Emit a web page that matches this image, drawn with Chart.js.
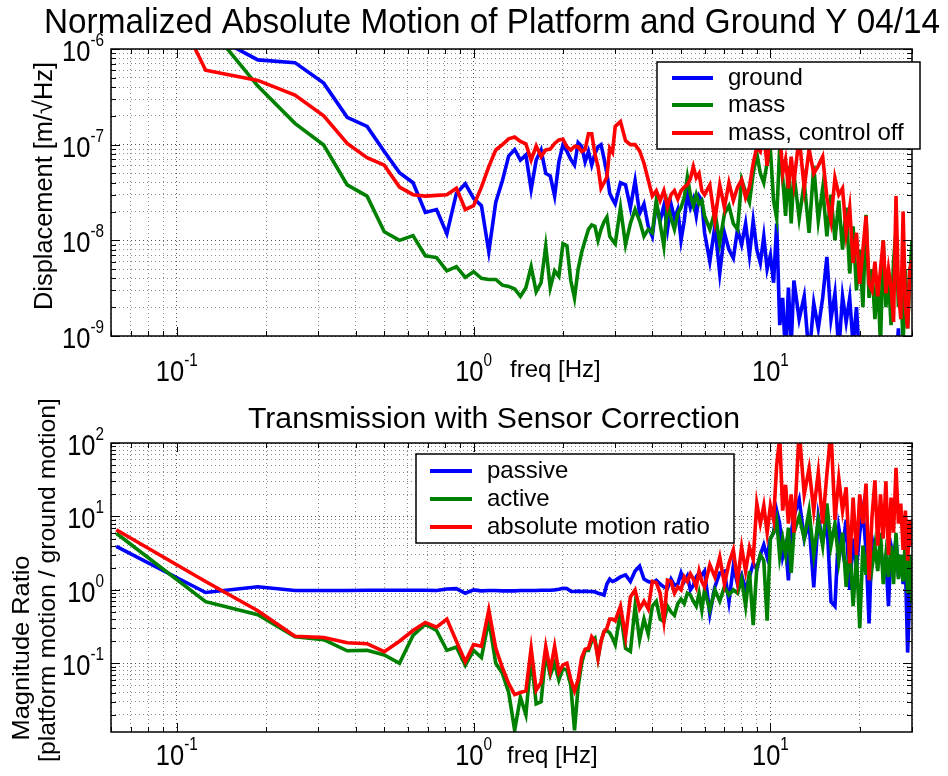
<!DOCTYPE html>
<html>
<head>
<meta charset="utf-8">
<script src="https://cdn.jsdelivr.net/npm/chart.js@4.4.1/dist/chart.umd.min.js"></script>
<style>
	body { margin: 0; background: #fff; }
	#topChart { position: absolute; left: 0; top: 0; }
	#botChart { position: absolute; left: 0; top: 390px; }
</style>
</head>
<body>
<canvas id="topChart" width="948" height="390"></canvas>
<canvas id="botChart" width="948" height="386"></canvas>
<script>
const FONT = '"Liberation Sans", Arial, Helvetica, sans-serif';

// frequency bins [Hz]
const freq = [
	0.0625, 0.125, 0.1875, 0.25, 0.3125, 0.375, 0.4375, 0.5, 0.5625, 0.625,
	0.6875, 0.75, 0.8125, 0.875, 0.9375, 1.0, 1.0625, 1.125, 1.1875, 1.25,
	1.3125, 1.375, 1.4375, 1.5, 1.5625, 1.625, 1.6875, 1.75, 1.8125, 1.875,
	1.9375, 2.0, 2.0625, 2.125, 2.1875, 2.25, 2.3125, 2.375, 2.4375, 2.5,
	2.5625, 2.625, 2.6875, 2.75, 2.8125, 2.875, 2.9375, 3.0,
	3.125, 3.25, 3.375, 3.5, 3.625, 3.75, 3.875, 4.0, 4.125, 4.25, 4.375, 4.5,
	4.625, 4.75, 4.875, 5.0, 5.125, 5.25, 5.375, 5.5, 5.625, 5.75, 5.875, 6.0,
	6.25, 6.5, 6.75, 7.0, 7.25, 7.5, 7.75, 8.0, 8.25, 8.5, 8.75, 9.0,
	9.25, 9.5, 9.75, 10.0, 10.25, 10.5, 10.75, 11.0, 11.25, 11.5, 11.75, 12.0,
	12.5, 13, 13.5, 14, 14.5, 15, 15.5, 16, 16.5, 17, 17.5, 18,
	18.5, 19, 19.5, 20, 20.5, 21, 21.5, 22, 22.5, 23, 23.5, 24,
	24.5, 25, 25.5, 26, 26.5, 27, 27.5, 28, 28.5, 29, 29.5, 30,
];

// top plot: displacement [m/rtHz]
const groundDisp = [
	3e-6, 1.5e-6, 7.7e-7, 7.2e-7, 4.4e-7, 1.93e-7, 1.55e-7, 8.5e-8, 5.1e-8, 4.0e-8,
	1.96e-8, 2.1e-8, 1.17e-8, 3.1e-8, 3.9e-8, 2.75e-8, 2.3e-8, 7.6e-9, 2.5e-8, 4.2e-8,
	7.6e-8, 8.9e-8, 6.9e-8, 7.8e-8, 3.4e-8, 6.9e-8, 8.8e-8, 5.0e-8, 4.7e-8, 2.9e-8,
	6.6e-8, 1.0e-7, 8.5e-8, 7.0e-8, 6.1e-8, 1.05e-7, 9.6e-8, 6.6e-8, 8.5e-8, 6.1e-8,
	8.0e-8, 9.5e-8, 1.0e-7, 7.2e-8, 5.0e-8, 3.1e-8, 2.7e-8, 2.4e-8,
	4.0e-8, 3.8e-8, 2.2e-8, 4.2e-8, 1.9e-8, 2.4e-8, 1.4e-8, 1.1e-8, 2.4e-8, 1.6e-8, 2.3e-8, 1.3e-8,
	2.4e-8, 1.7e-8, 2.1e-8, 1.0e-8, 1.6e-8, 3.1e-8, 2.2e-8, 2.7e-8, 1.8e-8, 2.9e-8, 2.6e-8, 1.2e-8,
	6e-9, 1.4e-8, 4.5e-9, 1.2e-8, 8e-9, 6.5e-9, 1.3e-8, 9e-9, 1.5e-8, 7e-9, 1.6e-8, 8e-9,
	5.8e-9, 1.1e-8, 5e-9, 7e-9, 3.6e-9, 1.5e-8, 1.3e-9, 2.5e-9, 6e-10, 3.2e-9, 8e-10, 3.8e-9,
	1.5e-9, 2.6e-9, 6e-10, 2.2e-9, 1.2e-9, 2.5e-9, 6.7e-9, 1.5e-9, 2.8e-9, 7e-10, 2.6e-9, 1.4e-9,
	2.5e-9, 8e-10, 2.0e-9, 5e-10, 6e-10, 4e-10, 5e-10, 4e-10, 5e-10, 4e-10, 5e-10, 4e-10,
	5e-10, 4e-10, 5e-10, 4e-10, 5e-10, 1.2e-9, 4e-10, 1.1e-9, 4e-10, 5e-10, 4e-10, 5e-10,
];
const massDisp = [
	4e-6, 1.9e-6, 4.1e-7, 1.67e-7, 9.9e-8, 3.8e-8, 2.9e-8, 1.23e-8, 1.0e-8, 1.12e-8,
	6.9e-9, 6.6e-9, 4.8e-9, 5.3e-9, 4.1e-9, 4.7e-9, 4.0e-9, 3.9e-9, 3.9e-9, 3.4e-9,
	3.3e-9, 3.1e-9, 2.6e-9, 3.2e-9, 5.3e-9, 2.9e-9, 3.6e-9, 8.7e-9, 3.2e-9, 4.8e-9,
	4.2e-9, 9.2e-9, 8.8e-9, 3.8e-9, 2.5e-9, 5.0e-9, 7.5e-9, 1.0e-8, 1.3e-8, 1.45e-8,
	1.4e-8, 1.0e-8, 1.3e-8, 1.55e-8, 1.75e-8, 1.1e-8, 1.0e-8, 9.2e-9,
	2.2e-8, 9e-9, 1.5e-8, 2.1e-8, 1.6e-8, 1.1e-8, 1.3e-8, 1.2e-8, 2.6e-8, 1.5e-8, 8.7e-9, 2.4e-8,
	1.7e-8, 1.3e-8, 1.9e-8, 2.2e-8, 2.8e-8, 4.6e-8, 3.0e-8, 2.3e-8, 3.0e-8, 2.4e-8, 2.6e-8, 1.8e-8,
	1.3e-8, 2.0e-8, 9.4e-9, 1.9e-8, 2.3e-8, 1.5e-8, 1.3e-8, 4.3e-8, 3.2e-8, 2.5e-8, 5.0e-8, 8.1e-8,
	5.0e-8, 4.0e-8, 6.5e-8, 8.8e-8, 2.6e-8, 1.7e-8, 9.5e-8, 4.5e-8, 1.8e-8, 6e-8, 1.5e-8, 5e-8,
	1.7e-8, 4e-8, 1.2e-8, 6e-8, 1.6e-8, 3.5e-8, 1.1e-8, 3e-8, 1.0e-8, 2.6e-8, 8e-9, 2.2e-8,
	4.5e-9, 1.4e-8, 3e-9, 8e-9, 2e-9, 1.85e-8, 2.5e-9, 5e-9, 1.5e-9, 4e-9, 8e-10, 1e-8,
	2e-9, 4e-9, 1.3e-9, 6e-9, 1.3e-8, 2e-9, 3.5e-9, 8e-10, 5e-9, 1.2e-9, 4e-9, 1.0e-8,
];
const massOffDisp = [
	5e-5, 6.0e-7, 4.7e-7, 3.3e-7, 2.0e-7, 1.03e-7, 7.3e-8, 6.1e-8, 3.6e-8, 3.0e-8,
	2.9e-8, 2.95e-8, 3.0e-8, 3.5e-8, 2.1e-8, 2.3e-8, 3.6e-8, 5.9e-8, 8.8e-8, 1.0e-7,
	1.15e-7, 1.2e-7, 1.08e-7, 1.02e-7, 6.9e-8, 9.7e-8, 7.5e-8, 8.8e-8, 9.0e-8, 1.03e-7,
	1.12e-7, 1.14e-7, 9.5e-8, 8.8e-8, 9.6e-8, 9.5e-8, 8.5e-8, 8.9e-8, 1.3e-7, 1.3e-7,
	8.0e-8, 5.9e-8, 3.5e-8, 4.0e-8, 4.6e-8, 9.2e-8, 8.3e-8, 1.55e-7,
	1.74e-7, 1.1e-7, 1.0e-7, 1.0e-7, 8.6e-8, 6.4e-8, 4.3e-8, 2.9e-8, 3.3e-8, 2.6e-8, 3.3e-8, 2.25e-8,
	3.0e-8, 3.3e-8, 2.7e-8, 3.3e-8, 3.6e-8, 3.8e-8, 4.4e-8, 5.9e-8, 4.5e-8, 5.0e-8, 3.3e-8, 3.0e-8,
	3.8e-8, 1.6e-8, 3.8e-8, 2.2e-8, 4.0e-8, 2.6e-8, 3.6e-8, 4.3e-8, 2.8e-8, 3.6e-8, 6.4e-8, 9.5e-8,
	8.5e-8, 1.3e-7, 6e-8, 1.6e-7, 1.1e-7, 1.7e-7, 1.4e-7, 5e-8, 7e-8, 3.5e-8, 7.5e-8, 4e-8,
	1.2e-7, 3.5e-8, 9e-8, 5e-8, 6e-8, 7.5e-8, 2.8e-8, 1.6e-8, 4.5e-8, 3e-8, 3.5e-8, 1.2e-8,
	2.2e-8, 5.8e-9, 1.2e-8, 3.5e-9, 8e-9, 1.8e-8, 3.5e-9, 3e-9, 6e-9, 2.6e-9, 5e-9, 1e-8,
	2.8e-9, 5e-9, 3.2e-9, 1.4e-9, 2.9e-8, 3e-9, 1.5e-9, 2e-8, 2e-9, 1.2e-9, 5e-9, 6.2e-9,
];

// bottom plot: magnitude ratio
const passiveRatio = [
	3.9, 0.92, 1.1, 0.98, 0.98, 0.98, 0.99, 0.99, 0.99, 0.99,
	0.99, 0.98, 1.03, 1.04, 0.9, 1.0, 0.97, 0.98, 0.98, 0.97,
	0.97, 0.97, 0.98, 0.98, 0.98, 0.98, 0.99, 0.99, 0.99, 1.0,
	1.02, 1.05, 1.04, 0.96, 0.95, 0.96, 0.95, 0.96, 0.95, 0.95,
	0.94, 0.9, 0.88, 0.85, 1.2, 1.4, 1.3, 1.35,
	1.5, 1.6, 1.3, 1.8, 2.1, 1.4, 1.3, 1.25, 1.35, 1.2, 1.1, 1.05,
	1.4, 1.15, 1.2, 1.7, 1.3, 1.55, 1.0, 1.15, 1.5, 1.7, 1.6, 1.8,
	0.47, 1.1, 1.7, 1.8, 0.69, 2.1, 1.2, 1.6, 1.0, 1.5, 2.3, 1.9,
	3.0, 4.1, 2.8, 5, 6, 12, 8, 2.8, 4, 1.35, 6, 10,
	17, 5, 8, 1.08, 10, 4.5, 9, 0.69, 0.6, 7, 3.5, 9,
	1.0, 5, 2.0, 6, 12, 3.5, 0.35, 5, 3, 2.5, 4, 1.8,
	2.5, 0.6, 4, 2.8, 5, 1.5, 3, 1.2, 2.2, 0.14, 1.0, 2.0,
];
const activeRatio = [
	5.9, 0.69, 0.46, 0.23, 0.21, 0.148, 0.15, 0.13, 0.10, 0.24,
	0.34, 0.28, 0.15, 0.167, 0.094, 0.15, 0.12, 0.39, 0.1, 0.073,
	0.04, 0.0122, 0.0345, 0.02, 0.12, 0.028, 0.03, 0.136, 0.069, 0.1,
	0.059, 0.085, 0.08, 0.05, 0.0122, 0.048, 0.1, 0.15, 0.15, 0.2,
	0.22, 0.117, 0.2, 0.27, 0.28, 0.26, 0.22, 0.18,
	0.5, 0.16, 0.145, 0.6, 0.21, 0.4, 0.25, 0.6, 0.7, 0.4, 0.37, 0.6,
	0.5, 0.45, 0.65, 0.75, 0.65, 0.9, 0.85, 0.7, 0.6, 0.9, 0.53, 1.0,
	0.53, 1.0, 0.7, 1.1, 0.85, 1.0, 0.9, 1.4, 0.6, 1.8, 0.33, 2.0,
	3, 2.5, 0.38, 5, 6, 9, 2.8, 5, 3, 7, 1.7, 6,
	10, 5, 12, 3, 9, 4, 15, 4, 8, 2.5, 6, 1.1,
	4, 0.6, 3, 0.3, 4, 1.6, 5, 2, 4, 1.8, 6, 1.2,
	3, 1.5, 4, 1.2, 6, 1.4, 3, 1.3, 5, 0.9, 3, 0.65,
];
const absRatio = [
	6.6, 1.3, 0.52, 0.234, 0.225, 0.19, 0.185, 0.144, 0.2, 0.28,
	0.36, 0.31, 0.4, 0.2, 0.105, 0.18, 0.17, 0.53, 0.16, 0.087,
	0.053, 0.0375, 0.04, 0.042, 0.16, 0.043, 0.055, 0.17, 0.08, 0.17,
	0.075, 0.095, 0.1, 0.06, 0.042, 0.06, 0.12, 0.155, 0.16, 0.23,
	0.2, 0.117, 0.2, 0.27, 0.3, 0.4, 0.4, 0.38,
	0.6, 0.23, 0.8, 1.0, 0.55, 0.7, 0.55, 1.3, 1.25, 0.9, 0.38, 1.35,
	1.3, 0.9, 1.1, 1.0, 1.5, 1.3, 1.65, 1.4, 1.1, 1.8, 1.3, 1.1,
	2.2, 1.5, 2.8, 1.2, 2.3, 3.5, 1.3, 3.8, 1.8, 3.8, 2.6, 15,
	8, 14, 6, 14, 9, 50, 120, 12, 27, 8, 20, 6,
	150, 20, 45, 12, 40, 8, 38, 150, 9, 33, 12, 25,
	2.3, 18, 3, 20, 8, 28, 1.35, 10, 31, 4, 20, 5,
	30, 3, 18, 6, 46, 8, 15, 3.5, 12, 2.5, 9, 4,
];

function isMajor(v) {
	const l = Math.log10(v);
	return Math.abs(l - Math.round(l)) < 1e-6;
}
// matlab style log ticks: 1..9 x 10^n inside the range
function logTicks(min, max) {
	let out = [];
	for (let e = Math.floor(Math.log10(min)); e <= Math.ceil(Math.log10(max)); e++)
		for (let m = 1; m < 10; m++) {
			const v = m * Math.pow(10, e);
			if (v >= min * 0.999 && v <= max * 1.001) out.push(v);
		}
	return out;
}
function logAxis(min, max) {
	return {
		type: "logarithmic",
		min: min,
		max: max,
		afterBuildTicks: (s) => {
			s.ticks = logTicks(min, max).map((v) => ({ value: v }));
		},
		ticks: { display: false },
		grid: {
			color: (c) => (c.tick && isMajor(c.tick.value) ? "#555" : "#8c8c8c"),
			lineWidth: 1,
			drawTicks: false,
		},
		border: { display: false, dash: [1, 3] },
	};
}
function series(label, ys, color, order) {
	return {
		label: label,
		data: freq.map((f, i) => ({ x: f, y: ys[i] })),
		borderColor: color,
		backgroundColor: color,
		borderWidth: 3.6,
		pointRadius: 0,
		tension: 0,
		fill: false,
		order: order,
		clip: 0,
	};
}

function text(ctx, s, x, y, font, opt) {
	opt = opt || {};
	ctx.save();
	ctx.translate(x, y);
	if (opt.rot) ctx.rotate(opt.rot);
	ctx.scale(opt.sx || 1, 1);
	ctx.font = font;
	ctx.textAlign = opt.align || "left";
	ctx.textBaseline = opt.base || "alphabetic";
	ctx.fillStyle = "#000";
	ctx.fillText(s, 0, 0);
	ctx.restore();
}
// text squeezed/stretched to a given length
function fitText(ctx, s, x, y, size, len, opt) {
	ctx.font = size + "px " + FONT;
	const w = ctx.measureText(s).width;
	text(ctx, s, x, y, size + "px " + FONT, Object.assign({ align: "center", sx: len / w }, opt));
}
function drawPow(ctx, e, x, y, axis, sx) {
	const base = "30px " + FONT,
		sup = "18px " + FONT;
	ctx.font = base;
	const wb = ctx.measureText("10").width * sx;
	ctx.font = sup;
	const ws = ctx.measureText(String(e)).width * sx;
	let left, by;
	if (axis == "x") {
		left = x - (wb + ws) / 2;
		by = y;
	} else {
		left = x - wb - ws;
		by = y + 12;
	}
	text(ctx, "10", left, by, base, { sx: sx });
	text(ctx, String(e), left + wb, by - 15, sup, { sx: sx });
}

function decor(cfg) {
	return {
		id: "decor",
		afterDraw(chart) {
			const { ctx, chartArea: a, scales: { x, y } } = chart;
			ctx.save();
			// inward tick marks on all four sides
			ctx.strokeStyle = "#000";
			ctx.lineWidth = 1;
			ctx.beginPath();
			x.ticks.forEach((t) => {
				const px = Math.round(x.getPixelForValue(t.value)) + 0.5;
				const L = isMajor(t.value) ? 9 : 5;
				ctx.moveTo(px, a.bottom);
				ctx.lineTo(px, a.bottom - L);
				ctx.moveTo(px, a.top);
				ctx.lineTo(px, a.top + L);
			});
			y.ticks.forEach((t) => {
				const py = Math.round(y.getPixelForValue(t.value)) + 0.5;
				const L = isMajor(t.value) ? 9 : 5;
				ctx.moveTo(a.left, py);
				ctx.lineTo(a.left + L, py);
				ctx.moveTo(a.right, py);
				ctx.lineTo(a.right - L, py);
			});
			ctx.stroke();
			ctx.lineWidth = 1.5;
			ctx.strokeRect(a.left, a.top, a.right - a.left, a.bottom - a.top);

			// tick labels
			cfg.xDecades.forEach((e) => drawPow(ctx, e, x.getPixelForValue(Math.pow(10, e)), cfg.xTickY, "x", cfg.sx));
			cfg.yDecades.forEach((e) => drawPow(ctx, e, 104, y.getPixelForValue(Math.pow(10, e)), "y", cfg.sx));

			// titles
			fitText(ctx, cfg.title.text, cfg.title.cx, cfg.title.y, cfg.title.size, cfg.title.len);
			cfg.yTitles.forEach((t) =>
				fitText(ctx, t.text, t.x, t.cy, t.size, t.len, { rot: -Math.PI / 2 }),
			);
			text(ctx, "freq [Hz]", cfg.xTitle.x, cfg.xTitle.y, "24px " + FONT);

			// legend box
			const lg = cfg.legend;
			ctx.fillStyle = "#fff";
			ctx.fillRect(lg.x, lg.y, lg.w, lg.h);
			ctx.lineWidth = 1.5;
			ctx.strokeStyle = "#000";
			ctx.strokeRect(lg.x, lg.y, lg.w, lg.h);
			chart.data.datasets.forEach((ds, i) => {
				const ry = lg.rows[i];
				ctx.strokeStyle = ds.borderColor;
				ctx.lineWidth = 4;
				ctx.beginPath();
				ctx.moveTo(lg.lineX[0], ry);
				ctx.lineTo(lg.lineX[1], ry);
				ctx.stroke();
				text(ctx, ds.label, lg.textX, ry, "24px " + FONT, { base: "middle" });
			});
			ctx.restore();
		},
	};
}

function makeChart(id, datasets, yMin, yMax, pad, cfg) {
	return new Chart(document.getElementById(id), {
		type: "line",
		data: { datasets: datasets },
		plugins: [decor(cfg)],
		options: {
			responsive: false,
			devicePixelRatio: 1,
			animation: false,
			events: [],
			layout: { padding: pad },
			plugins: { legend: { display: false }, tooltip: { enabled: false } },
			scales: {
				x: logAxis(0.06, 30),
				y: logAxis(yMin, yMax),
			},
		},
	});
}

makeChart(
	"topChart",
	[
		series("ground", groundDisp, "#0000ff", 3),
		series("mass", massDisp, "#008000", 2),
		series("mass, control off", massOffDisp, "#ff0000", 1),
	],
	1e-9,
	1e-6,
	{ left: 111, right: 36, top: 49, bottom: 54 },
	{
		sx: 0.85,
		xDecades: [-1, 0, 1],
		yDecades: [-9, -8, -7, -6],
		xTickY: 381,
		title: { text: "Normalized Absolute Motion of Platform and Ground Y 04/14", cx: 492, y: 33, size: 35, len: 896 },
		yTitles: [{ text: "Displacement [m/\u221AHz]", x: 52, cy: 186, size: 26, len: 248 }],
		xTitle: { x: 510, y: 377 },
		legend: { x: 657, y: 62, w: 263, h: 87, rows: [78, 105, 133], lineX: [672, 713], textX: 728 },
	},
);

makeChart(
	"botChart",
	[
		series("passive", passiveRatio, "#0000ff", 3),
		series("active", activeRatio, "#008000", 2),
		series("absolute motion ratio", absRatio, "#ff0000", 1),
	],
	0.0116,
	100,
	{ left: 111, right: 36, top: 53, bottom: 44 },
	{
		sx: 0.85,
		xDecades: [-1, 0, 1],
		yDecades: [-1, 0, 1, 2],
		xTickY: 375,
		title: { text: "Transmission with Sensor Correction", cx: 494, y: 38, size: 29, len: 492 },
		yTitles: [
			{ text: "Magnitude Ratio", x: 29, cy: 258, size: 24, len: 185 },
			{ text: "[platform motion / ground motion]", x: 55, cy: 190, size: 24, len: 364 },
		],
		xTitle: { x: 507, y: 373 },
		legend: { x: 416, y: 64, w: 318, h: 89, rows: [81, 109, 137], lineX: [430, 472], textX: 487 },
	},
);
</script>
</body>
</html>
